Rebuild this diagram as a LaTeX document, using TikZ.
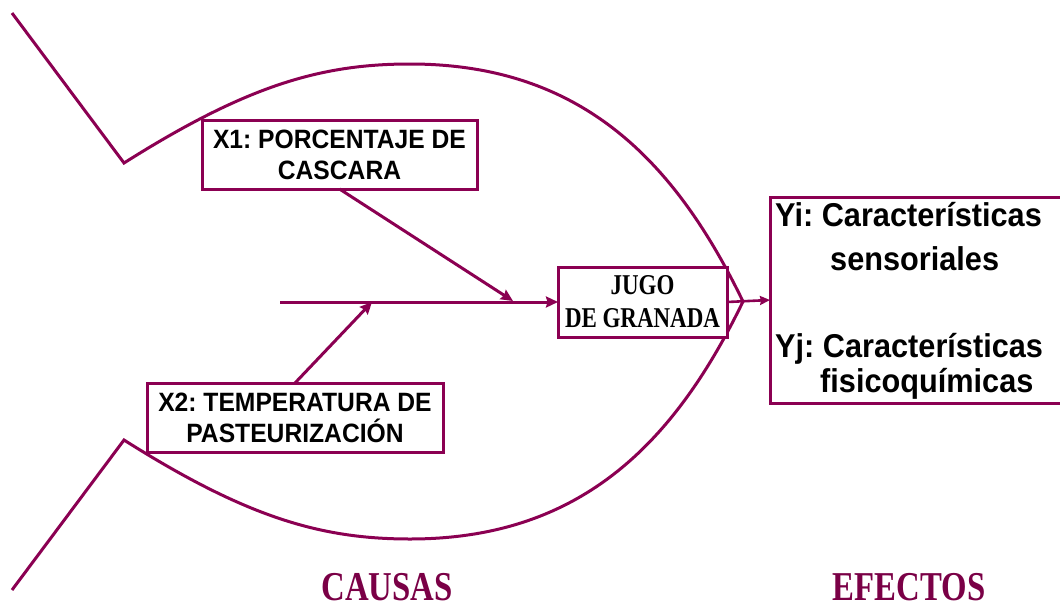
\documentclass[tikz,border=0pt]{standalone}
\usepackage{fontspec}
\usetikzlibrary{arrows.meta}
\newfontfamily\csans[FakeStretch=0.93]{Liberation Sans}
\newfontfamily\cserif[FakeStretch=0.8]{Liberation Serif}
\definecolor{fishpurple}{RGB}{139,0,82}
\definecolor{labelpurple}{RGB}{122,0,70}
\frenchspacing
\tikzset{
  fishline/.style={draw=fishpurple, line width=3pt, line join=miter},
  arrowline/.style={draw=fishpurple, line width=3pt, -{Stealth[length=12pt,width=11pt,inset=1.5pt]}},
  smallarrow/.style={draw=fishpurple, line width=2.6pt, -{Stealth[length=10pt,width=9pt,inset=1pt]}},
  causebox/.style={draw=fishpurple, line width=3pt, fill=white, inner sep=0pt, outer sep=0pt,
    align=center, font=\frenchspacing\csans\bfseries\fontsize{26.5}{31}\selectfont},
  mainbox/.style={draw=fishpurple, line width=3pt, fill=white, inner sep=0pt, outer sep=0pt,
    align=center, font=\cserif\bfseries\fontsize{28.7}{33}\selectfont},
  effectbox/.style={draw=fishpurple, line width=3pt, fill=white, inner sep=0pt, outer sep=0pt},
  effecttext/.style={inner sep=0pt, align=left, font=\frenchspacing\csans\bfseries\fontsize{33}{35}\selectfont},
  biglabel/.style={inner sep=0pt, text=labelpurple, font=\cserif\bfseries\fontsize{41}{45}\selectfont}
}
\begin{document}
\begin{tikzpicture}[x=1pt,y=-1pt]
\useasboundingbox (0,0) rectangle (1060,608);

% fish body and tail
\coordinate (tailA) at (12,13);
\coordinate (finA) at (124,163);
\coordinate (topB) at (410,64);
\coordinate (tip) at (743,301.5);
\coordinate (botB) at (410,539);
\coordinate (finB) at (124,440);
\coordinate (tailB) at (12,590);
\draw[fishline] (tailA) -- (finA)
  .. controls (246,86) and (320,64) .. (topB)
  .. controls (580,64) and (674,159) .. (tip)
  .. controls (674,444) and (580,539) .. (botB)
  .. controls (320,539) and (246,517) .. (finB)
  -- (tailB);

% boxes
\node[causebox, minimum width=275pt, minimum height=69pt] (X1) at (339.5,154.5)
  {X1: PORCENTAJE DE\\CASCARA};
\node[causebox, minimum width=296pt, minimum height=69pt] (X2) at (295,417.5)
  {X2: TEMPERATURA DE\\PASTEURIZACIÓN};
\node[mainbox, minimum width=169pt, minimum height=70pt] (J) at (642.5,302)
  {JUGO\\DE GRANADA};
\node[effectbox, anchor=west, minimum width=305pt, minimum height=206pt] (Y) at (770,300) {};
\node[effecttext, anchor=west] (Ytext) at (775,301)
  {Yi: Características\\[9pt]\hspace*{55pt}sensoriales\\[52pt]Yj: Características\\\hspace*{45pt}fisicoquímicas};

% spine and arrows
\coordinate (spine) at (280,302);
\coordinate (p1) at (513,301);
\coordinate (p2) at (372,302);
\draw[arrowline] (spine) -- (J.west);
\draw[arrowline] (X1.south) -- (p1);
\draw[arrowline] (X2.north) -- (p2);
\draw[smallarrow] (J.east) -- (Y.west);

% labels
\node[biglabel, anchor=base] (causas) at (387,600) {CAUSAS};
\node[biglabel, anchor=base] (efectos) at (909,600) {EFECTOS};
\end{tikzpicture}
\end{document}
